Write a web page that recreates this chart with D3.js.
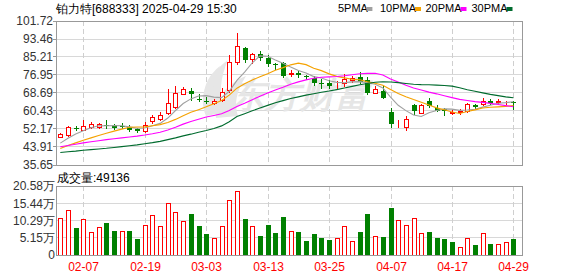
<!DOCTYPE html>
<html>
<head>
<meta charset="utf-8">
<script src="https://cdn.jsdelivr.net/npm/d3@7/dist/d3.min.js"></script>
<style>
  body { margin: 0; background: #fff; }
  text { font-family: "Liberation Sans", Arial, sans-serif; }
</style>
</head>
<body>
<svg width="578" height="276"></svg>
<script>
// daily bars, 2025
const dates = ["01-27","02-05","02-06","02-07","02-10","02-11","02-12","02-13","02-14","02-17",
  "02-18","02-19","02-20","02-21","02-24","02-25","02-26","02-27","02-28","03-03",
  "03-04","03-05","03-06","03-07","03-10","03-11","03-12","03-13","03-14","03-17",
  "03-18","03-19","03-20","03-21","03-24","03-25","03-26","03-27","03-28","03-31",
  "04-01","04-02","04-03","04-07","04-08","04-09","04-10","04-11","04-14","04-15",
  "04-16","04-17","04-18","04-21","04-22","04-23","04-24","04-25","04-28","04-29"];

const open = [48.6,49.2,52.8,51.8,53.1,52.9,53.8,54.0,53.5,53.0,
  52.1,51.2,55.8,56.8,59.3,62.2,68.3,69.8,66.1,65.1,
  64.0,65.5,70.2,83.1,89.2,84.3,86.4,84.6,82.2,82.3,
  77.3,77.8,76.3,75.5,73.5,73.2,73.1,73.2,74.6,75.8,
  74.7,68.9,69.8,59.9,54.7,53.0,63.2,59.7,64.8,62.0,
  61.3,59.5,59.8,60.5,63.1,63.7,64.8,64.5,64.8,64.5];
const high = [50.3,53.6,53.6,56.5,55.3,55.0,56.4,54.6,54.9,53.9,
  52.8,55.6,58.6,60.0,70.3,72.0,71.5,71.0,68.2,66.8,
  66.0,70.9,86.2,96.4,89.7,86.9,88.0,86.2,82.6,83.1,
  79.3,78.9,77.0,76.4,75.0,74.5,74.4,77.3,76.4,78.1,
  75.9,72.0,71.7,62.0,56.4,58.1,63.7,63.7,66.3,63.0,
  61.7,61.0,61.3,64.2,63.6,66.4,65.9,65.9,65.2,65.1];
const low = [48.4,48.9,51.9,51.6,52.6,52.6,52.4,52.2,52.4,51.3,
  50.6,50.9,55.0,56.1,59.0,61.7,68.0,65.5,64.8,64.0,
  63.6,65.1,69.2,81.9,83.1,82.4,83.9,81.1,79.7,76.2,
  76.5,76.2,75.3,72.5,70.9,71.2,70.9,71.8,73.9,73.3,
  68.3,68.7,66.3,53.3,53.0,51.5,59.1,59.4,62.3,60.2,
  58.7,59.1,59.0,60.0,61.8,63.0,63.5,63.5,63.6,61.3];
const close = [50.0,53.3,52.5,53.6,54.3,54.4,53.5,52.8,53.2,51.8,
  51.2,54.2,57.8,58.7,64.0,68.6,70.3,68.3,65.4,64.8,
  65.2,69.2,82.8,90.3,83.9,86.6,84.9,82.0,81.8,76.5,
  78.0,76.9,76.1,73.5,73.2,71.7,73.4,75.2,75.5,73.8,
  68.9,70.3,66.6,54.4,55.0,56.7,60.2,63.2,62.8,60.5,
  60.2,59.8,60.3,63.6,62.2,65.1,64.0,64.9,65.1,64.2];
// volume, in 万 shares
const volume = [11.0,13.4,8.1,10.7,6.8,8.3,9.5,7.2,7.1,7.1,
  4.8,8.9,11.9,8.6,15.5,12.8,10.1,12.3,8.7,6.3,
  5.1,8.6,16.45,19.05,10.8,8.6,5.7,9.0,6.6,11.4,
  7.1,6.9,4.2,6.3,5.1,4.5,5.1,8.6,4.1,6.9,
  12.3,5.7,5.4,14.1,10.4,8.9,11.0,6.5,6.9,5.1,
  4.8,3.9,2.4,5.1,3.0,6.5,3.3,3.3,3.9,4.9136];

const ma5 = [45.7,47.9,49.9,51.4,52.74,53.62,53.66,53.72,53.64,53.14,
  52.50,52.64,53.64,54.74,57.18,60.66,63.88,65.98,67.32,67.48,
  66.80,66.58,69.48,74.46,78.28,82.56,85.70,85.54,83.84,82.36,
  80.64,79.04,77.86,76.20,75.54,74.28,73.58,73.40,73.80,73.92,
  73.36,72.74,71.02,66.80,63.04,60.60,58.58,57.90,59.58,60.68,
  61.38,61.30,60.72,60.88,61.22,62.20,63.04,63.96,64.26,64.66];
const ma10 = [43.2,44.6,45.8,47.0,48.1,49.2,50.2,51.2,52.1,52.94,
  53.06,53.15,53.68,54.19,55.16,56.58,58.26,59.81,61.03,62.33,
  63.73,65.23,67.73,70.89,72.88,74.68,76.14,77.51,79.15,80.32,
  81.60,82.37,81.70,80.02,78.95,77.46,76.31,75.63,75.00,74.73,
  73.82,73.16,72.21,70.30,68.48,66.98,65.66,64.46,63.19,61.86,
  60.99,59.94,59.31,60.23,60.95,61.79,62.17,62.34,62.57,62.94];
const ma20 = [44.0,44.6,45.2,45.8,46.3,46.8,47.3,47.7,48.1,48.5,
  48.9,49.4,50.0,50.7,51.7,53.0,54.4,55.6,56.65,57.64,
  58.40,59.19,60.71,62.54,64.02,65.63,67.20,68.66,70.09,71.33,
  72.67,73.80,74.72,75.46,75.92,76.07,76.23,76.57,77.08,77.53,
  77.71,77.77,76.96,75.16,73.72,72.22,70.99,70.05,69.10,68.30,
  67.41,66.55,65.76,65.27,64.72,64.39,63.92,63.40,62.88,62.40];
const ma30 = [41.4,41.7,42.0,42.4,42.7,43.0,43.3,43.7,44.1,44.5,
  44.9,45.4,45.9,46.5,47.3,48.1,49.0,49.8,50.7,51.5,
  52.4,53.6,55.5,57.9,59.2,60.5,61.8,63.0,64.2,65.20,
  66.13,66.92,67.70,68.37,69.00,69.57,70.24,70.98,71.73,72.46,
  73.05,73.59,73.88,73.74,73.44,73.04,72.70,72.53,72.45,72.30,
  72.14,71.82,71.07,70.18,69.46,68.74,68.05,67.48,66.92,66.51];

const priceTicks = [35.65, 43.91, 52.17, 60.43, 68.69, 76.95, 85.21, 93.46, 101.72];
const volTicks = [0, 5.15, 10.29, 15.44, 20.58];
const volTickLabels = ["0", "5.15万", "10.29万", "15.44万", "20.58万"];
const dateTicks = ["02-07", "02-19", "03-03", "03-13", "03-25", "04-07", "04-17", "04-29"];

const maSeries = [
  {name: "5PMA", values: ma5, color: "#a0a0a0"},
  {name: "10PMA", values: ma10, color: "#f5a200"},
  {name: "20PMA", values: ma20, color: "#ff00ff"},
  {name: "30PMA", values: ma30, color: "#006b2e"}
];

const RED = "#ff0000", GREEN = "#008000", GRID = "#d8d8d8", FRAME = "#999";

const svg = d3.select("svg");
const left = 56, right = 522;
const pTop = 21, pBot = 165, vTop = 186, vBot = 255;

const x = d3.scalePoint().domain(dates).range([60.3, 513.4]);
const y = d3.scaleLinear().domain([priceTicks[0], priceTicks[priceTicks.length - 1]]).range([pBot, pTop]);
const yv = d3.scaleLinear().domain([0, volTicks[volTicks.length - 1]]).range([vBot, vTop]);
const cx = d => Math.round(x(d));
const crisp = v => Math.floor(v) + 0.5;

// horizontal grid
svg.append("g").selectAll("line").data(priceTicks).join("line")
    .attr("x1", left).attr("x2", right)
    .attr("y1", d => crisp(y(d))).attr("y2", d => crisp(y(d)))
    .attr("stroke", GRID);
svg.append("g").selectAll("line").data(volTicks).join("line")
    .attr("x1", left).attr("x2", right)
    .attr("y1", d => crisp(yv(d))).attr("y2", d => crisp(yv(d)))
    .attr("stroke", GRID);

// vertical dashed date lines
[[pTop, pBot], [vTop, vBot]].forEach(([t, b]) => {
  svg.append("g").selectAll("line").data(dateTicks).join("line")
      .attr("x1", d => cx(d) + 0.5).attr("x2", d => cx(d) + 0.5)
      .attr("y1", t).attr("y2", b)
      .attr("stroke", "#cfcfcf")
      .attr("stroke-dasharray", "5,3");
});

// watermark
const wm = svg.append("g").attr("fill", "#e6e6e6");
wm.append("path").attr("d", "M206,116 C198,96 206,76 228,60 C220,78 218,96 226,112 Z");
wm.append("path").attr("d", "M216,118 C214,100 226,84 246,76 C236,92 234,104 238,116 Z");
wm.append("path").attr("d", "M204,96 C204,84 210,74 220,66 C214,80 212,88 214,100 Z");
wm.append("text")
    .attr("x", 230).attr("y", 107)
    .attr("font-family", "'Noto Sans CJK SC', sans-serif")
    .attr("font-size", 35).attr("font-weight", "bold")
    .attr("font-style", "italic")
    .text("东方财富");

// candles
const candles = svg.append("g");
dates.forEach((d, i) => {
  const o = open[i], c = close[i];
  const up = c >= o;
  const col = up ? RED : GREEN;
  const xc = cx(d);
  candles.append("line")
      .attr("x1", xc + 0.5).attr("x2", xc + 0.5)
      .attr("y1", Math.round(y(high[i]))).attr("y2", Math.round(y(low[i])) + 1)
      .attr("stroke", col);
  const top = Math.round(y(Math.max(o, c)));
  const bot = Math.round(y(Math.min(o, c)));
  if (up) {
    candles.append("rect")
        .attr("x", xc - 1.5).attr("y", top + 0.5)
        .attr("width", 4).attr("height", Math.max(bot - top, 0))
        .attr("fill", "#fff").attr("stroke", col);
  } else {
    candles.append("rect")
        .attr("x", xc - 2).attr("y", top)
        .attr("width", 5).attr("height", Math.max(bot - top, 1))
        .attr("fill", col);
  }
});

// moving averages
const line = d3.line().x((v, i) => x(dates[i])).y(v => y(v));
svg.append("g").selectAll("path").data(maSeries).join("path")
    .attr("d", s => line(s.values))
    .attr("fill", "none")
    .attr("stroke", s => s.color)
    .attr("stroke-width", 1.1);

// volume bars, coloured by change from previous close
const vols = svg.append("g");
dates.forEach((d, i) => {
  const up = i === 0 || close[i] >= close[i - 1];
  const xc = cx(d);
  const top = Math.round(yv(volume[i]));
  if (up) {
    vols.append("rect")
        .attr("x", xc - 1.5).attr("y", top + 0.5)
        .attr("width", 4).attr("height", vBot - top)
        .attr("fill", "#fff").attr("stroke", RED);
  } else {
    vols.append("rect")
        .attr("x", xc - 2).attr("y", top)
        .attr("width", 5).attr("height", vBot - top + 1)
        .attr("fill", GREEN);
  }
});

// frames
[[pTop, pBot], [vTop, vBot]].forEach(([t, b]) => {
  svg.append("rect")
      .attr("x", left + 0.5).attr("y", t + 0.5)
      .attr("width", right - left).attr("height", b - t)
      .attr("fill", "none").attr("stroke", FRAME);
});

// y axes
const axisText = "#333";
svg.append("g").selectAll("text").data(priceTicks).join("text")
    .attr("x", 53).attr("y", d => y(d))
    .attr("dy", "0.36em")
    .attr("text-anchor", "end")
    .attr("font-size", 12).attr("fill", axisText)
    .text(d => d.toFixed(2));
svg.append("g").selectAll("line").data(priceTicks).join("line")
    .attr("x1", 53).attr("x2", 56)
    .attr("y1", d => crisp(y(d))).attr("y2", d => crisp(y(d)))
    .attr("stroke", FRAME);
svg.append("g").selectAll("text").data(volTicks).join("text")
    .attr("x", 55).attr("y", d => yv(d))
    .attr("dy", "0.36em")
    .attr("text-anchor", "end")
    .attr("font-family", "'Liberation Sans', 'Noto Sans CJK SC', sans-serif")
    .attr("font-size", 12).attr("fill", axisText)
    .text((d, i) => volTickLabels[i]);

// date labels
svg.append("g").selectAll("text").data(dateTicks).join("text")
    .attr("x", d => cx(d) + 0.5).attr("y", 271)
    .attr("text-anchor", "middle")
    .attr("font-family", "'Noto Sans CJK SC', sans-serif")
    .attr("font-size", 12).attr("fill", RED)
    .text(d => d);

// title and legend
svg.append("text")
    .attr("x", 56).attr("y", 13)
    .attr("font-family", "'Noto Sans CJK SC', sans-serif")
    .attr("font-size", 12).attr("fill", "#000")
    .text("铂力特[688333] 2025-04-29 15:30");

svg.append("text")
    .attr("x", 57).attr("y", 182)
    .attr("font-family", "'Noto Sans CJK SC', sans-serif")
    .attr("font-size", 12).attr("fill", "#000")
    .text("成交量:" + Math.round(volume[volume.length - 1] * 10000));

const legendX = [338, 380, 425.5, 471.5];
const legend = svg.append("g").selectAll("g").data(maSeries).join("g")
    .attr("transform", (s, i) => `translate(${legendX[i]},0)`);
legend.append("text")
    .attr("x", 0).attr("y", 12)
    .attr("font-family", "'Liberation Mono', monospace")
    .attr("font-size", 11).attr("fill", "#000")
    .text(s => s.name);
legend.append("rect")
    .attr("x", s => s.name.length * 6.6 + 2).attr("y", 7)
    .attr("width", 6).attr("height", 4)
    .attr("fill", s => s.color);
</script>
</body>
</html>
